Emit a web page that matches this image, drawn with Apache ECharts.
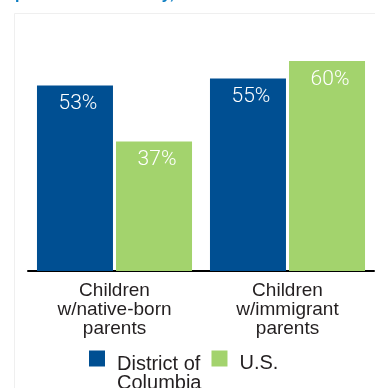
<!DOCTYPE html>
<html>
<head>
<meta charset="utf-8">
<script src="https://cdn.jsdelivr.net/npm/echarts@6/dist/echarts.min.js"></script>
<style>
  html, body { margin: 0; padding: 0; background: #fff; }
  #chart { width: 375px; height: 388px; }
</style>
</head>
<body>
<div id="chart"></div>
<script>
// Share of children, by parents' nativity
const categories = ['Children\nw/native-born\nparents', 'Children\nw/immigrant\nparents'];
const seriesNames = ['District of Columbia', 'U.S.'];
const legendLines = [['District of', 'Columbia'], ['U.S.']];
const dcValues = [53, 55];
const usValues = [37, 60];

const BLUE = '#004f92';
const GREEN = '#a3d36d';
const FONT = '"Liberation Sans", Arial, sans-serif';

const chart = echarts.init(document.getElementById('chart'), null, { renderer: 'canvas' });

const valueLabel = {
  show: true,
  position: 'insideTop',
  distance: 8,
  offset: [3, 0],
  color: '#ffffff',
  fontFamily: 'Roboto, ' + FONT,
  fontSize: 21,
  fontWeight: 300,
  formatter: p => p.value + '%'
};

// Legend text: first line sits level with the swatch, any further lines hang below it
function legendText(name) {
  const lines = legendLines[seriesNames.indexOf(name)];
  const pad = lines.length > 1 ? '{padA| }' : '{padB| }';
  return pad + '\n' + lines.map(l => '{t|' + l + '}').join('\n');
}

chart.setOption({
  animation: false,
  backgroundColor: '#ffffff',
  graphic: [
    {
      type: 'rect',
      silent: true,
      shape: { x: 14.5, y: 13.5, width: 400, height: 400 },
      style: { fill: 'none', stroke: '#efefef', lineWidth: 1 }
    },
    {
      type: 'text',
      silent: true,
      x: 15,
      y: 3,
      style: {
        text: 'parents in the family, 2006',
        fill: '#0a7cc1',
        font: 'bold 16px ' + FONT,
        verticalAlign: 'bottom'
      }
    }
  ],
  grid: { left: 28, right: 1, top: 26, bottom: 117, containLabel: false },
  legend: {
    left: 89,
    top: 339,
    padding: 0,
    itemWidth: 16,
    itemHeight: 16,
    itemGap: 10,
    icon: 'rect',
    selectedMode: false,
    formatter: legendText,
    textStyle: {
      color: '#231f20',
      fontFamily: FONT,
      fontSize: 20,
      rich: {
        padA: { fontSize: 1, lineHeight: 31 },
        padB: { fontSize: 1, lineHeight: 10 },
        t: { fontFamily: FONT, fontSize: 20, lineHeight: 19, color: '#231f20', padding: [0, 0, 0, 7] }
      }
    },
    data: seriesNames
  },
  xAxis: {
    type: 'category',
    data: categories,
    axisTick: { show: false },
    axisLine: { show: true, lineStyle: { color: '#000000', width: 2 } },
    axisLabel: {
      color: '#231f20',
      fontFamily: FONT,
      fontSize: 19,
      lineHeight: 19,
      margin: 10,
      interval: 0
    }
  },
  yAxis: {
    type: 'value',
    min: 0,
    max: 70,
    show: false,
    splitLine: { show: false }
  },
  series: [
    {
      name: seriesNames[0],
      type: 'bar',
      data: dcValues,
      barWidth: 76,
      barGap: '4%',
      itemStyle: { color: BLUE },
      label: valueLabel
    },
    {
      name: seriesNames[1],
      type: 'bar',
      data: usValues,
      barWidth: 76,
      barGap: '4%',
      itemStyle: { color: GREEN },
      label: valueLabel
    }
  ]
});
</script>
</body>
</html>
